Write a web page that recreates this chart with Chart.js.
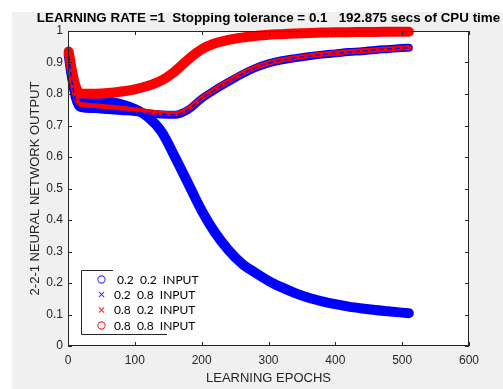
<!DOCTYPE html>
<html>
<head>
<meta charset="utf-8">
<script src="https://cdn.jsdelivr.net/npm/chart.js@4.4.0/dist/chart.umd.min.js"></script>
<style>
    html, body { margin: 0; padding: 0; background: #ffffff; }
    canvas { display: block; }
</style>
</head>
<body>
<canvas id="nnChart" width="503" height="389"></canvas>
<script>
const epochs = [1, 5, 10, 15, 20, 40, 60, 80, 100, 120, 140, 160, 180, 200, 220, 240, 260, 280, 300, 320, 340, 360, 380, 400, 420, 440, 460, 480, 500, 510];

// Salida de la red 2-2-1 para cada entrada
const out22 = [0.925, 0.865, 0.815, 0.792, 0.786, 0.782, 0.777, 0.767, 0.752, 0.726, 0.68, 0.60, 0.515, 0.43, 0.36, 0.305, 0.262, 0.233, 0.207, 0.186, 0.168, 0.153, 0.142, 0.133, 0.125, 0.119, 0.114, 0.11, 0.106, 0.104];
const out28 = [0.92, 0.855, 0.79, 0.762, 0.755, 0.752, 0.749, 0.746, 0.743, 0.739, 0.735, 0.734, 0.75, 0.785, 0.813, 0.838, 0.862, 0.882, 0.897, 0.907, 0.914, 0.92, 0.925, 0.929, 0.933, 0.936, 0.94, 0.943, 0.946, 0.947];
const out82 = [0.925, 0.86, 0.80, 0.772, 0.767, 0.763, 0.759, 0.755, 0.75, 0.744, 0.739, 0.737, 0.753, 0.787, 0.815, 0.84, 0.864, 0.884, 0.898, 0.908, 0.915, 0.921, 0.926, 0.93, 0.934, 0.937, 0.94, 0.943, 0.946, 0.947];
const out88 = [0.935, 0.885, 0.835, 0.808, 0.802, 0.801, 0.803, 0.808, 0.815, 0.826, 0.843, 0.872, 0.91, 0.942, 0.961, 0.972, 0.979, 0.984, 0.988, 0.99, 0.992, 0.994, 0.995, 0.996, 0.996, 0.997, 0.997, 0.998, 0.998, 0.998];

const seriesLabels = [' 0.2  0.2  INPUT', '0.2  0.8  INPUT', '0.8  0.2  INPUT', '0.8  0.8  INPUT'];
const xTicks = [0, 100, 200, 300, 400, 500, 600];
const yTicks = [0, 0.1, 0.2, 0.3, 0.4, 0.5, 0.6, 0.7, 0.8, 0.9, 1];
const chartTitle = 'LEARNING RATE =1  Stopping tolerance = 0.1   192.875 secs of CPU time';
const xTitle = 'LEARNING EPOCHS';
const yTitle = '2-2-1 NEURAL NETWORK OUTPUT';

const BLUE = '#0000ff';
const RED = '#ff0000';
const AXIS = '#262626';
const FONT = '"Liberation Sans", Arial, sans-serif';

function toXY(xs, ys) {
    return xs.map((x, i) => ({ x: x, y: ys[i] }));
}

function serie(label, values, color, width, style, order) {
    return {
        label: label,
        data: toXY(epochs, values),
        borderColor: color,
        backgroundColor: color,
        borderWidth: width,
        borderCapStyle: 'round',
        borderJoinStyle: 'round',
        cubicInterpolationMode: 'monotone',
        pointRadius: 0,
        pointStyle: style,
        clip: false,
        order: order
    };
}

// Fondo gris, caja de ejes, marcas hacia dentro, titulo y leyenda al estilo MATLAB
const matlabLook = {
    id: 'matlabLook',
    beforeDraw(chart) {
        const { ctx, chartArea: a } = chart;
        ctx.save();
        ctx.fillStyle = '#ffffff';
        ctx.fillRect(0, 0, chart.width, chart.height);
        ctx.fillStyle = '#f0f0f0';
        ctx.fillRect(12, 12, chart.width - 12, chart.height - 12);
        ctx.fillStyle = '#ffffff';
        ctx.fillRect(a.left, a.top, a.right - a.left, a.bottom - a.top);
        ctx.restore();
    },
    afterDraw(chart) {
        const { ctx, chartArea: a } = chart;
        const xs = chart.scales.x;
        const ys = chart.scales.y;
        ctx.save();
        ctx.strokeStyle = AXIS;
        ctx.lineWidth = 1;
        ctx.strokeRect(a.left + 0.5, a.top + 0.5, a.right - a.left - 1, a.bottom - a.top - 1);

        ctx.beginPath();
        xTicks.forEach(v => {
            const px = Math.round(xs.getPixelForValue(v)) + 0.5;
            ctx.moveTo(px, a.bottom); ctx.lineTo(px, a.bottom - 4);
            ctx.moveTo(px, a.top); ctx.lineTo(px, a.top + 4);
        });
        yTicks.forEach(v => {
            const py = Math.round(ys.getPixelForValue(v)) + 0.5;
            ctx.moveTo(a.left, py); ctx.lineTo(a.left + 4, py);
            ctx.moveTo(a.right, py); ctx.lineTo(a.right - 4, py);
        });
        ctx.stroke();

        // titulo
        ctx.fillStyle = '#000000';
        ctx.font = 'bold 13.4px ' + FONT;
        ctx.textAlign = 'center';
        ctx.textBaseline = 'middle';
        ctx.fillText(chartTitle, (a.left + a.right) / 2, 18);

        // leyenda
        const lx = 81.5, ly = 270.5, lb = 334.5;
        ctx.beginPath();
        ctx.moveTo(113, ly); ctx.lineTo(lx, ly); ctx.lineTo(lx, lb); ctx.lineTo(167, lb);
        ctx.stroke();

        const rows = [279.5, 294.5, 310, 325.5];
        ctx.font = '12px Lato, "Open Sans", sans-serif';
        ctx.textAlign = 'left';
        chart.data.datasets.slice(0, 4).forEach((ds, i) => {
            const mx = 101.5, my = rows[i];
            ctx.strokeStyle = ds.borderColor === BLUE ? '#3c3cff' : '#ff3030';
            ctx.lineWidth = 1.1;
            ctx.beginPath();
            if (ds.pointStyle === 'circle') {
                ctx.arc(mx, my, 3.6, 0, Math.PI * 2);
            } else {
                ctx.moveTo(mx - 2.6, my - 2.6); ctx.lineTo(mx + 2.6, my + 2.6);
                ctx.moveTo(mx - 2.6, my + 2.6); ctx.lineTo(mx + 2.6, my - 2.6);
            }
            ctx.stroke();
            ctx.fillStyle = '#000000';
            ctx.fillText(seriesLabels[i], 114, my + 0.5);
        });
        ctx.restore();
    }
};

const ctx = document.getElementById('nnChart').getContext('2d');
window.nnChartInstance = new Chart(ctx, {
    type: 'line',
    data: {
        datasets: [
            serie(seriesLabels[0], out22, BLUE, 10, 'circle', 4),
            serie(seriesLabels[1], out28, BLUE, 8, 'crossRot', 3),
            serie(seriesLabels[2], out82, RED, 5, 'crossRot', 2),
            serie(seriesLabels[3], out88, RED, 10, 'circle', 1),
            // linea discontinua azul en el centro de la banda 0.2 0.8
            Object.assign(serie('', out28, BLUE, 1.5, 'line', 0), { borderDash: [5, 3], borderCapStyle: 'butt' })
        ]
    },
    options: {
        responsive: false,
        devicePixelRatio: 1,
        animation: false,
        layout: { padding: { left: 0, top: 31, right: 34, bottom: 0 } },
        plugins: {
            legend: { display: false },
            title: { display: false },
            tooltip: { enabled: false }
        },
        scales: {
            x: {
                type: 'linear',
                min: 0,
                max: 600,
                afterBuildTicks: s => { s.ticks = xTicks.map(v => ({ value: v })); },
                afterFit: s => { s.height = 43; },
                grid: { display: false, drawTicks: false },
                border: { display: false },
                ticks: {
                    color: AXIS, padding: 7, maxRotation: 0, autoSkip: false,
                    font: { family: FONT, size: 12 },
                    callback: v => String(v)
                },
                title: {
                    display: true, text: xTitle, color: AXIS,
                    font: { family: FONT, size: 13 },
                    padding: { top: 0, bottom: 3 }
                }
            },
            y: {
                type: 'linear',
                min: 0,
                max: 1,
                afterBuildTicks: s => { s.ticks = yTicks.map(v => ({ value: v })); },
                afterFit: s => { s.width = 68; },
                grid: { display: false, drawTicks: false },
                border: { display: false },
                ticks: {
                    color: AXIS, padding: 5, autoSkip: false,
                    font: { family: FONT, size: 12 },
                    callback: v => String(v)
                },
                title: {
                    display: true, text: yTitle, color: AXIS,
                    font: { family: FONT, size: 13 },
                    padding: { top: 28, bottom: 0 }
                }
            }
        }
    },
    plugins: [matlabLook]
});
</script>
</body>
</html>
